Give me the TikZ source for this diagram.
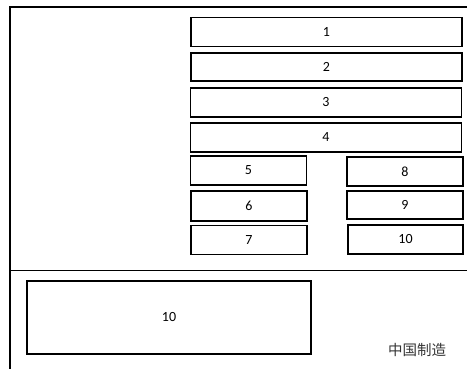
\documentclass[tikz,border=0pt]{standalone}
\usepackage{fontspec}
\setmainfont{Carlito}
\newfontfamily\cjk{Noto Sans CJK SC}

\begin{document}
\begin{tikzpicture}[x=1pt,y=-1pt,
    box/.style={draw,line width=1.6pt,inner sep=0pt,outer sep=0pt,
        minimum width=271pt,minimum height=29pt,font=\fontsize{14}{16}\selectfont},
    half/.style={box,minimum width=116pt}]

    % 画布范围
    \useasboundingbox (0,0) rectangle (467,369);

    % 外框线
    \draw[line width=1.3pt] (467,7) -- (10,7) -- (10,369);
    \draw[line width=1pt] (10,271) -- (467,271);

    % 上方长条
    \node[box] (b1) at (326.5,32) {1};
    \node[box,minimum height=28pt] (b2) at (326.5,67) {2};
    \node[box] (b3) at (326,102.5) {3};
    \node[box] (b4) at (326,137.5) {4};

    % 左列
    \node[half] (b5) at (248.5,170.5) {5};
    \node[half,minimum height=30pt] (b6) at (249,206) {6};
    \node[half] (b7) at (249,240) {7};

    % 右列
    \node[half] (b8) at (405,171.5) {8};
    \node[half,minimum height=28pt] (b9) at (405,205) {9};
    \node[half,minimum width=115pt] (b10) at (405.5,239.5) {10};

    % 下方大框
    \node[box,minimum width=284pt,minimum height=73pt] (big) at (169,317.5) {10};

    % 文字
    \node[font=\cjk\fontsize{14.5}{16}\selectfont,text=black!80] (made) at (417,350) {中国制造};

\end{tikzpicture}
\end{document}
